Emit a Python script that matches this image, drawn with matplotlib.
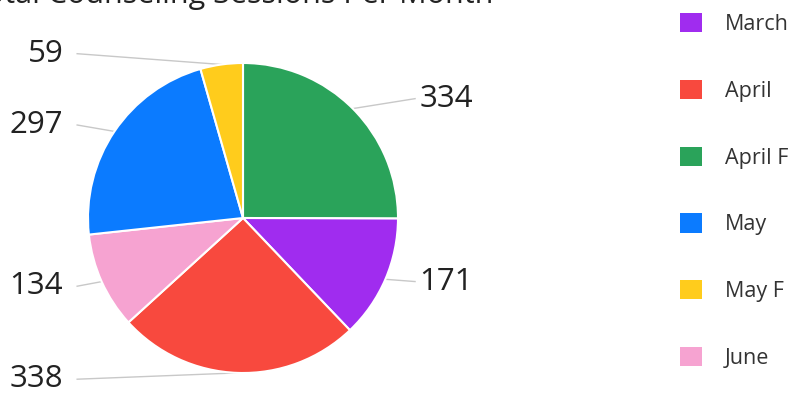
import numpy as np
import matplotlib
matplotlib.use("Agg")
import matplotlib.pyplot as plt
from matplotlib.patches import Patch

plt.rcParams["font.family"] = ["Open Sans", "DejaVu Sans"]

# Data (slice order is clockwise from 12 o'clock)
slice_names = ["April F", "March", "April", "June", "May", "May F"]
slice_values = [334, 171, 338, 134, 297, 59]
slice_colors = ["#2aa35a", "#a02cef", "#f8493e", "#f6a3d1", "#0b7bff", "#ffcc1c"]

legend_order = ["March", "April", "April F", "May", "May F", "June"]

TITLE = "Total Counseling Sessions Per Month"

W, H = 795, 397
CX, CY, R = 243, 218, 155  # pie centre / radius in pixels

fig = plt.figure(figsize=(W / 100, H / 100), dpi=100)
ax = fig.add_axes([0, 0, 640 / W, 1])
ax.axis("off")

wedges, _ = ax.pie(
    slice_values,
    colors=slice_colors,
    startangle=90,
    counterclock=False,
    radius=1.0,
    wedgeprops=dict(edgecolor="white", linewidth=1.5),
)
ax.set_xlim(-CX / R, (640 - CX) / R)
ax.set_ylim(-(H - CY) / R, CY / R)
ax.set_aspect("auto")

# label placement (y in radius units), side decided by wedge angle
label_y = {"April F": 0.77, "March": -0.41, "April": -1.04,
           "June": -0.44, "May": 0.60, "May F": 1.06}
for w, name, val in zip(wedges, slice_names, slice_values):
    mid = np.deg2rad((w.theta1 + w.theta2) / 2)
    ex, ey = np.cos(mid), np.sin(mid)
    ly = label_y[name]
    if ex >= 0:
        lx_line, lx_text, ha = 1.11, 1.14, "left"
    else:
        lx_line, lx_text, ha = -1.07, -1.16, "right"
    ax.plot([ex, lx_line], [ey, ly], color="#c8c8c8", lw=1, zorder=0)
    ax.text(lx_text, ly, str(val), ha=ha, va="center", fontsize=22.5, color="#222222")

# title, clipped by top edge like the source
fig.text(493 / W, (H - 3) / H, TITLE, ha="right", va="baseline",
         fontsize=22, color="#222222")

colors_by_name = dict(zip(slice_names, slice_colors))
handles = [Patch(facecolor=colors_by_name[n], edgecolor="none", label=n)
           for n in legend_order]
fig.legend(handles=handles, loc="upper left", bbox_to_anchor=(665 / W, 1.005),
           frameon=False, fontsize=15.5, handlelength=1.0, handleheight=1.0,
           handletextpad=1.08, labelspacing=2.08, borderaxespad=0.3,
           labelcolor="#333333")

fig.savefig("out.png", dpi=100)
